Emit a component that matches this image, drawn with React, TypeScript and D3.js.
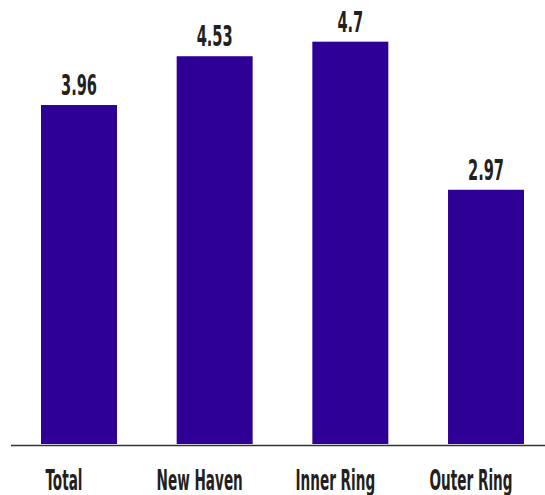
import React from "react";
import * as d3 from "d3";

const categories = ["Total", "New Haven", "Inner Ring", "Outer Ring"];
const values = [3.96, 4.53, 4.7, 2.97];
const valueLabels = ["3.96", "4.53", "4.7", "2.97"];

const W = 545;
const H = 495;
const axisLeft = 11;
const baseline = 444;
const barColor = "#2E0095";
const textColor = "#231F20";
const fontFamily = "'DejaVu Sans Condensed', 'Liberation Sans', sans-serif";

export default function App() {
  const x = d3
    .scaleBand<string>()
    .domain(categories)
    .range([41, 524])
    .paddingInner(0.44)
    .paddingOuter(0);

  const y = d3.scaleLinear().domain([0, 5]).range([baseline, baseline - 5 * 85.6]);

  return (
    <svg
      width={W}
      height={H}
      style={{ position: "absolute", left: 0, top: 0 }}
    >
      {categories.map((c, i) => {
        const bx = x(c)!;
        const cx = bx + x.bandwidth() / 2;
        const top = y(values[i]);
        return (
          <g key={c}>
            <rect
              x={bx}
              y={top}
              width={x.bandwidth()}
              height={baseline - top}
              fill={barColor}
            />
            <text
              transform={`translate(${cx},${top - 10}) scale(0.58,1)`}
              textAnchor="middle"
              fontFamily={fontFamily}
              fontWeight="bold"
              fontSize={28}
              fill={textColor}
            >
              {valueLabels[i]}
            </text>
            <text
              transform={`translate(${cx - 15},${H - 5}) scale(0.54,1)`}
              textAnchor="middle"
              fontFamily={fontFamily}
              fontWeight="bold"
              fontSize={28}
              fill={textColor}
            >
              {c}
            </text>
          </g>
        );
      })}
      <line
        x1={axisLeft}
        x2={W}
        y1={baseline + 1.5}
        y2={baseline + 1.5}
        stroke="#333333"
        strokeWidth={1.6}
      />
    </svg>
  );
}
